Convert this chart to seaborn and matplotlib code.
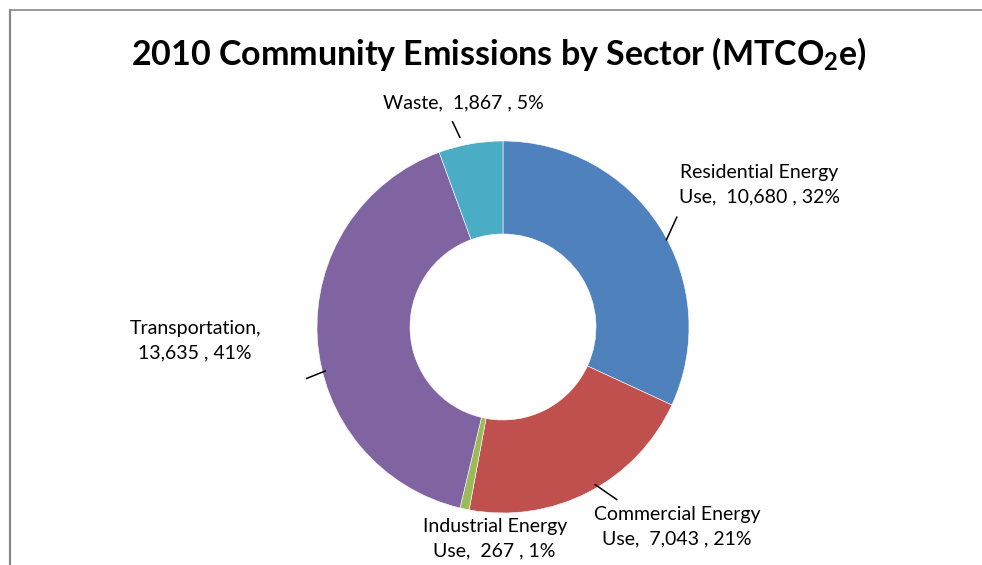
import matplotlib
matplotlib.use("Agg")
import matplotlib.pyplot as plt
from matplotlib.lines import Line2D
import seaborn as sns

# Sector emissions (MTCO2e), clockwise from 12 o'clock
sectors = ["Residential Energy Use", "Commercial Energy Use", "Industrial Energy Use",
           "Transportation", "Waste"]
emissions = [10680, 7043, 267, 13635, 1867]
pct_labels = [32, 21, 1, 41, 5]
label_texts = [
    "Residential Energy\nUse,  10,680 , 32%",
    "Commercial Energy\nUse,  7,043 , 21%",
    "Industrial Energy\nUse,  267 , 1%",
    "Transportation,\n13,635 , 41%",
    "Waste,  1,867 , 5%",
]
colors = ["#4F81BD", "#C0504D", "#9BBB59", "#8064A2", "#4BACC6"]

sns.set_theme(style="white")
plt.rcParams["font.family"] = ["Lato", "DejaVu Sans"]
plt.rcParams["mathtext.fontset"] = "custom"
plt.rcParams["mathtext.rm"] = "Lato"
plt.rcParams["mathtext.bf"] = "Lato:bold"
plt.rcParams["mathtext.it"] = "Lato:italic"

W, H = 982, 565
fig = plt.figure(figsize=(W / 100, H / 100), dpi=100)
fig.patch.set_facecolor("white")

# Axes covering the whole figure; one data unit equals the donut's outer radius
cx, cy, R = 503, 327, 186
ax = fig.add_axes([0, 0, 1, 1])

palette = sns.color_palette(colors)
ax.pie(emissions, colors=palette, startangle=90, counterclock=False,
       radius=1.0, wedgeprops=dict(width=0.5, edgecolor="white", linewidth=0.4))
ax.set_aspect("auto")
ax.set_xlim(-cx / R, (W - cx) / R)
ax.set_ylim((cy - H) / R, cy / R)
ax.axis("off")

# Data labels: (x, y) centres of each text block in radius units
label_pos = [(1.378, 0.767), (0.935, -1.075), (-0.045, -1.139),
             (-1.655, -0.073), (-0.214, 1.203)]
for txt, (lx, ly) in zip(label_texts, label_pos):
    ax.text(lx, ly, txt, ha="center", va="center", fontsize=14,
            linespacing=1.52, color="black")

# Leader lines from the rim toward the labels
leaders = [((0.877, 0.465), (0.936, 0.594)),
           ((0.492, -0.845), (0.615, -0.930)),
           ((-0.952, -0.235), (-1.059, -0.278)),
           ((-0.230, 1.016), (-0.273, 1.107))]
for (x0, y0), (x1, y1) in leaders:
    ax.plot([x0, x1], [y0, y1], color="black", lw=1.1, solid_capstyle="butt")

# Title
fig.text(499 / W, 1 - 54 / H, r"2010 Community Emissions by Sector (MTCO$_\mathbf{2}$e)",
         ha="center", va="center", fontsize=24.5, fontweight="bold", color="black")

# Chart-area border (top and left edges visible)
fx, fy = 9.5 / W, 1 - 9.5 / H
fig.add_artist(Line2D([fx, 1.0], [fy, fy], transform=fig.transFigure,
                      color="#878787", lw=1.2))
fig.add_artist(Line2D([fx, fx], [fy, 0.0], transform=fig.transFigure,
                      color="#878787", lw=1.6))

fig.savefig("out.png", dpi=100, facecolor="white")
